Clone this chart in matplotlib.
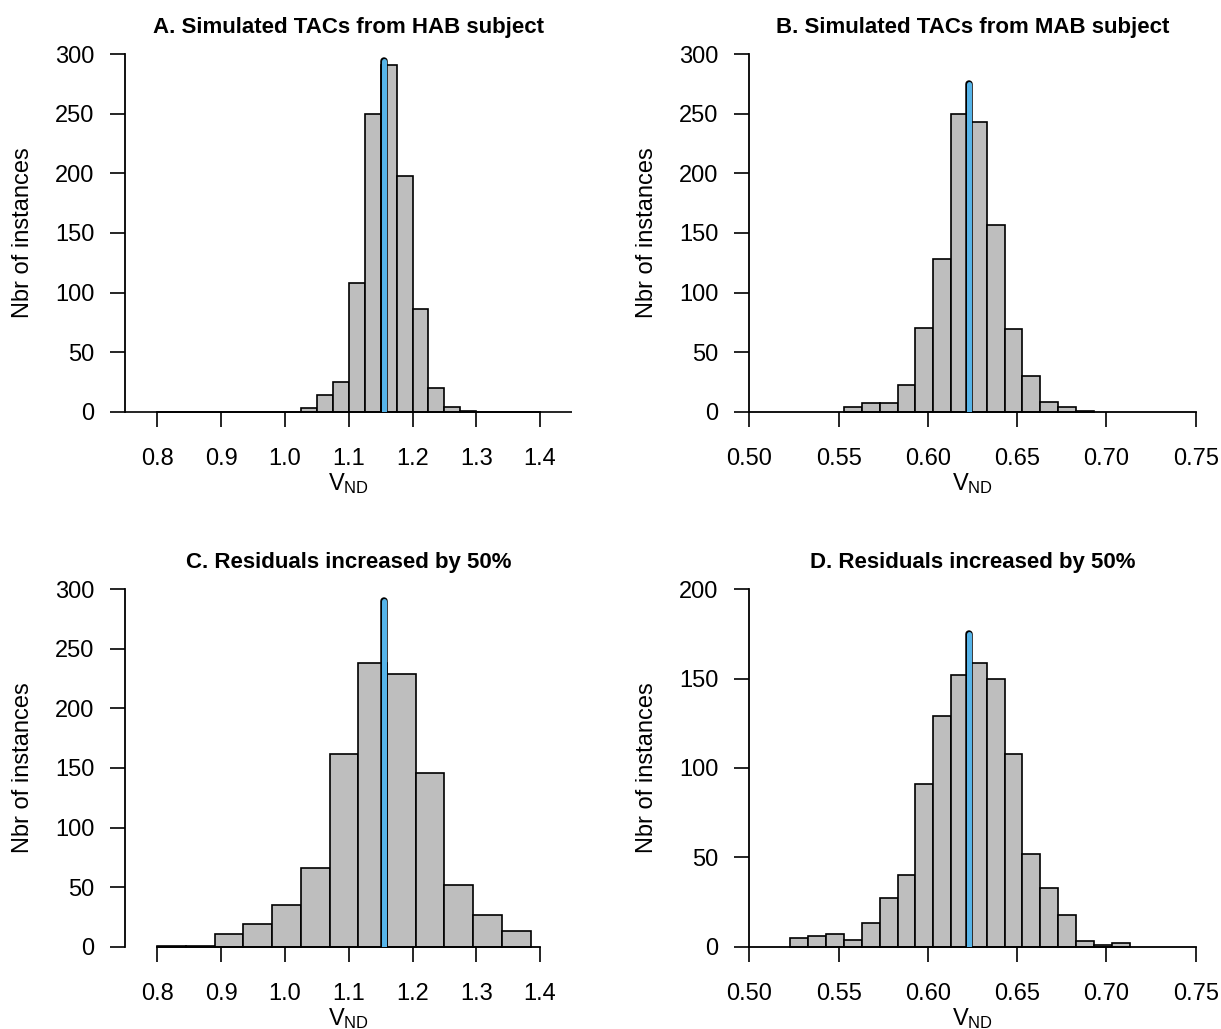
import matplotlib
matplotlib.use("Agg")
import numpy as np
import matplotlib.pyplot as plt

plt.rcParams["font.family"] = ["Liberation Sans", "DejaVu Sans"]
plt.rcParams["mathtext.default"] = "regular"

# Histogram counts (1000 simulated instances per panel)
# A. HAB subject: bins of 0.025 starting at 0.75
hab_start = 0.75
hab_width = 0.025
hab_counts = [0, 0, 0, 0, 0, 0, 0, 0, 0, 0, 0,
              3, 14, 25, 108, 250, 291, 198, 86, 20, 4, 1,
              0, 0, 0, 0, 0, 0]

# B. MAB subject: bins of 0.01 starting at 0.553
mab_start = 0.553
mab_width = 0.01
mab_counts = [4, 7, 7, 22, 70, 128, 250, 243, 157, 69, 30, 8, 4, 1]

# C. HAB, residuals +50%: bins of 0.045 starting at 0.8
hab50_start = 0.8
hab50_width = 0.045
hab50_counts = [1, 1, 11, 19, 35, 66, 162, 238, 229, 146, 52, 27, 13]

# D. MAB, residuals +50%: bins of 0.01 starting at 0.523
mab50_start = 0.523
mab50_width = 0.01
mab50_counts = [5, 6, 7, 4, 13, 27, 40, 91, 129, 152, 159, 150, 108, 52,
                33, 18, 3, 1, 2]

# true V_ND and height of the marker line
true_vnd = [1.155, 0.623, 1.155, 0.623]
marker_top = [294, 275, 290, 175]

titles = ["A. Simulated TACs from HAB subject",
          "B. Simulated TACs from MAB subject",
          "C. Residuals increased by 50%",
          "D. Residuals increased by 50%"]

hab_xticks = [0.8, 0.9, 1.0, 1.1, 1.2, 1.3, 1.4]
hab_xlabels = ["0.8", "0.9", "1.0", "1.1", "1.2", "1.3", "1.4"]
mab_xticks = [0.50, 0.55, 0.60, 0.65, 0.70, 0.75]
mab_xlabels = ["0.50", "0.55", "0.60", "0.65", "0.70", "0.75"]
yticks_300 = [0, 50, 100, 150, 200, 250, 300]
yticks_200 = [0, 50, 100, 150, 200]

panels = [
    (hab_start, hab_width, hab_counts, hab_xticks, hab_xlabels, yticks_300),
    (mab_start, mab_width, mab_counts, mab_xticks, mab_xlabels, yticks_300),
    (hab50_start, hab50_width, hab50_counts, hab_xticks, hab_xlabels, yticks_300),
    (mab50_start, mab50_width, mab50_counts, mab_xticks, mab_xlabels, yticks_200),
]
xlims = [(0.75, 1.45), (0.5, 0.75), (0.75, 1.45), (0.5, 0.75)]

W, H = 1221, 1029
fig = plt.figure(figsize=(W / 100, H / 100), dpi=100)

# axes rectangles in pixels: left, top, right, bottom
rects = [(125.4, 54.3, 572.0, 411.7),
         (749.3, 54.3, 1195.7, 411.7),
         (125.4, 589.3, 572.0, 946.7),
         (749.3, 589.3, 1195.7, 946.7)]

FILL = "#BEBEBE"
BLUE = "#56B4E9"

for i, (start, width, counts, xt, xl, yt) in enumerate(panels):
    l, t, r, b = rects[i]
    ax = fig.add_axes([l / W, 1 - b / H, (r - l) / W, (b - t) / H])

    edges = start + width * np.arange(len(counts))
    ax.bar(edges, counts, width=width, align="edge", color=FILL,
           edgecolor="black", linewidth=1.2, clip_on=False, zorder=2)

    x0 = true_vnd[i]
    ax.plot([x0, x0], [0, marker_top[i]], color="black", lw=5.4,
            solid_capstyle="round", zorder=4)
    ax.plot([x0, x0], [0, marker_top[i]], color=BLUE, lw=3.6,
            solid_capstyle="round", zorder=5)

    ax.set_xlim(*xlims[i])
    ax.set_ylim(yt[0], yt[-1])
    ax.set_xticks(xt)
    ax.set_xticklabels(xl)
    ax.set_yticks(yt)
    ax.set_yticklabels([str(v) for v in yt])

    for s in ["top", "right"]:
        ax.spines[s].set_visible(False)
    ax.spines["left"].set_bounds(yt[0], yt[-1])
    ax.spines["bottom"].set_bounds(xt[0], xt[-1])
    for s in ["left", "bottom"]:
        ax.spines[s].set_linewidth(1.3)
        ax.spines[s].set_zorder(3)

    ax.tick_params(direction="out", length=10.8, width=1.2, labelsize=17,
                   colors="black")
    ax.tick_params(axis="x", pad=15.5)
    ax.tick_params(axis="y", pad=11.3)

    ax.set_title(titles[i], fontsize=16, fontweight="bold", pad=15.5)

    aw = r - l
    ah = b - t
    ax.set_ylabel("Nbr of instances", fontsize=17, va="center")
    ax.yaxis.set_label_coords(-102 / aw, 0.5)
    ax.set_xlabel(r"V$_{ND}$", fontsize=17, va="baseline")
    ax.xaxis.set_label_coords(0.5, -78.3 / ah)

fig.savefig("out.png", dpi=100)
